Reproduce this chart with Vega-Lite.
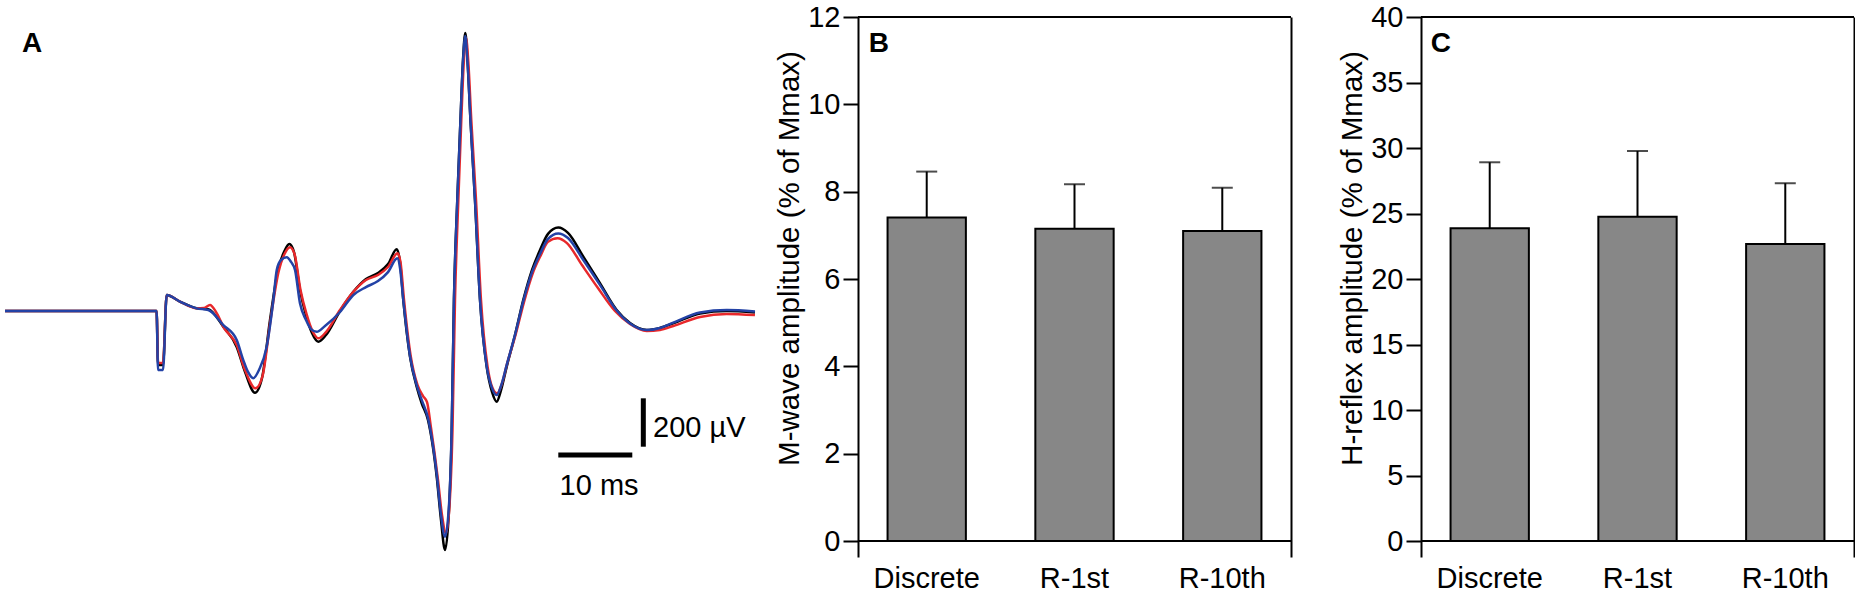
{
  "$schema": "https://vega.github.io/schema/vega-lite/v6.json",
  "padding": {"left": 0, "top": 3, "right": 0, "bottom": 0},
  "config": {
    "font": "Liberation Sans",
    "view": {"stroke": null},
    "axis": {
      "grid": false,
      "domainColor": "black",
      "domainWidth": 2,
      "tickColor": "black",
      "tickWidth": 2,
      "labelColor": "black",
      "titleColor": "black",
      "labelFontSize": 29,
      "titleFontSize": 29.5,
      "titleFontWeight": "normal",
      "labelFont": "Liberation Sans",
      "titleFont": "Liberation Sans"
    }
  },
  "datasets": {
    "traces": [
      {"trace": "Discrete", "t": -20.58, "v": 0}, {"trace": "Discrete", "t": -0.1, "v": 0}, {"trace": "Discrete", "t": 0.1, "v": -223}, {"trace": "Discrete", "t": 0.77, "v": -223},
      {"trace": "Discrete", "t": 1.27, "v": 66}, {"trace": "Discrete", "t": 3.05, "v": 39}, {"trace": "Discrete", "t": 5.32, "v": 11}, {"trace": "Discrete", "t": 6.89, "v": 7},
      {"trace": "Discrete", "t": 8.92, "v": -65}, {"trace": "Discrete", "t": 10.73, "v": -149}, {"trace": "Discrete", "t": 11.85, "v": -252}, {"trace": "Discrete", "t": 13.2, "v": -338},
      {"trace": "Discrete", "t": 14.15, "v": -277}, {"trace": "Discrete", "t": 15.23, "v": -37}, {"trace": "Discrete", "t": 16.31, "v": 170}, {"trace": "Discrete", "t": 17.12, "v": 244},
      {"trace": "Discrete", "t": 17.84, "v": 277}, {"trace": "Discrete", "t": 18.47, "v": 244}, {"trace": "Discrete", "t": 19.28, "v": 87}, {"trace": "Discrete", "t": 20.09, "v": -17},
      {"trace": "Discrete", "t": 20.9, "v": -91}, {"trace": "Discrete", "t": 21.76, "v": -127}, {"trace": "Discrete", "t": 22.8, "v": -99}, {"trace": "Discrete", "t": 24.69, "v": 0},
      {"trace": "Discrete", "t": 26.49, "v": 79}, {"trace": "Discrete", "t": 28.2, "v": 132}, {"trace": "Discrete", "t": 29.82, "v": 157}, {"trace": "Discrete", "t": 31.18, "v": 194},
      {"trace": "Discrete", "t": 32.35, "v": 255}, {"trace": "Discrete", "t": 32.8, "v": 203}, {"trace": "Discrete", "t": 33.24, "v": 46}, {"trace": "Discrete", "t": 34.15, "v": -189},
      {"trace": "Discrete", "t": 35.05, "v": -313}, {"trace": "Discrete", "t": 35.73, "v": -382}, {"trace": "Discrete", "t": 36.58, "v": -451}, {"trace": "Discrete", "t": 37.76, "v": -686},
      {"trace": "Discrete", "t": 38.34, "v": -865}, {"trace": "Discrete", "t": 38.88, "v": -989}, {"trace": "Discrete", "t": 39.42, "v": -823}, {"trace": "Discrete", "t": 39.78, "v": -505},
      {"trace": "Discrete", "t": 40.09, "v": 46}, {"trace": "Discrete", "t": 40.54, "v": 459}, {"trace": "Discrete", "t": 40.97, "v": 790}, {"trace": "Discrete", "t": 41.31, "v": 1038},
      {"trace": "Discrete", "t": 41.62, "v": 1150}, {"trace": "Discrete", "t": 41.92, "v": 1038}, {"trace": "Discrete", "t": 42.32, "v": 790}, {"trace": "Discrete", "t": 42.93, "v": 459},
      {"trace": "Discrete", "t": 43.61, "v": 46}, {"trace": "Discrete", "t": 44.51, "v": -230}, {"trace": "Discrete", "t": 45.23, "v": -335}, {"trace": "Discrete", "t": 45.86, "v": -375},
      {"trace": "Discrete", "t": 46.45, "v": -327}, {"trace": "Discrete", "t": 47.22, "v": -230}, {"trace": "Discrete", "t": 48.34, "v": -99}, {"trace": "Discrete", "t": 49.46, "v": 46},
      {"trace": "Discrete", "t": 50.64, "v": 170}, {"trace": "Discrete", "t": 51.72, "v": 252}, {"trace": "Discrete", "t": 52.8, "v": 319}, {"trace": "Discrete", "t": 54.19, "v": 345},
      {"trace": "Discrete", "t": 55.5, "v": 323}, {"trace": "Discrete", "t": 57.57, "v": 225}, {"trace": "Discrete", "t": 59.82, "v": 115}, {"trace": "Discrete", "t": 62.08, "v": 4},
      {"trace": "Discrete", "t": 63.88, "v": -50}, {"trace": "Discrete", "t": 66.14, "v": -79}, {"trace": "Discrete", "t": 67.93, "v": -70}, {"trace": "Discrete", "t": 69.73, "v": -51},
      {"trace": "Discrete", "t": 73.34, "v": -10}, {"trace": "Discrete", "t": 76.95, "v": 0}, {"trace": "Discrete", "t": 80.77, "v": -6},

      {"trace": "R-1st", "t": -20.58, "v": 0}, {"trace": "R-1st", "t": -0.1, "v": 0}, {"trace": "R-1st", "t": 0.1, "v": -215}, {"trace": "R-1st", "t": 0.77, "v": -215},
      {"trace": "R-1st", "t": 1.27, "v": 66}, {"trace": "R-1st", "t": 3.05, "v": 39}, {"trace": "R-1st", "t": 5.32, "v": 11}, {"trace": "R-1st", "t": 6.31, "v": 12},
      {"trace": "R-1st", "t": 7.12, "v": 25}, {"trace": "R-1st", "t": 7.93, "v": -4}, {"trace": "R-1st", "t": 9.01, "v": -70}, {"trace": "R-1st", "t": 10.73, "v": -141},
      {"trace": "R-1st", "t": 11.85, "v": -244}, {"trace": "R-1st", "t": 13.28, "v": -320}, {"trace": "R-1st", "t": 14.22, "v": -269}, {"trace": "R-1st", "t": 15.3, "v": -37},
      {"trace": "R-1st", "t": 16.38, "v": 161}, {"trace": "R-1st", "t": 17.19, "v": 236}, {"trace": "R-1st", "t": 17.93, "v": 264}, {"trace": "R-1st", "t": 18.54, "v": 236},
      {"trace": "R-1st", "t": 19.35, "v": 87}, {"trace": "R-1st", "t": 20.16, "v": -12}, {"trace": "R-1st", "t": 20.97, "v": -83}, {"trace": "R-1st", "t": 21.76, "v": -113},
      {"trace": "R-1st", "t": 22.8, "v": -87}, {"trace": "R-1st", "t": 24.69, "v": 4}, {"trace": "R-1st", "t": 26.49, "v": 79}, {"trace": "R-1st", "t": 28.2, "v": 128},
      {"trace": "R-1st", "t": 29.82, "v": 149}, {"trace": "R-1st", "t": 31.18, "v": 182}, {"trace": "R-1st", "t": 32.46, "v": 239}, {"trace": "R-1st", "t": 32.86, "v": 203},
      {"trace": "R-1st", "t": 33.34, "v": 46}, {"trace": "R-1st", "t": 34.22, "v": -182}, {"trace": "R-1st", "t": 35.16, "v": -306}, {"trace": "R-1st", "t": 35.91, "v": -352},
      {"trace": "R-1st", "t": 36.45, "v": -377}, {"trace": "R-1st", "t": 36.99, "v": -484}, {"trace": "R-1st", "t": 37.93, "v": -699}, {"trace": "R-1st", "t": 38.47, "v": -844},
      {"trace": "R-1st", "t": 39.01, "v": -920}, {"trace": "R-1st", "t": 39.49, "v": -803}, {"trace": "R-1st", "t": 39.89, "v": -492}, {"trace": "R-1st", "t": 40.23, "v": 46},
      {"trace": "R-1st", "t": 40.68, "v": 459}, {"trace": "R-1st", "t": 41.08, "v": 790}, {"trace": "R-1st", "t": 41.42, "v": 1030}, {"trace": "R-1st", "t": 41.72, "v": 1129},
      {"trace": "R-1st", "t": 42.03, "v": 1030}, {"trace": "R-1st", "t": 42.43, "v": 790}, {"trace": "R-1st", "t": 43.07, "v": 459}, {"trace": "R-1st", "t": 43.74, "v": 46},
      {"trace": "R-1st", "t": 44.62, "v": -228}, {"trace": "R-1st", "t": 45.3, "v": -319}, {"trace": "R-1st", "t": 45.91, "v": -341}, {"trace": "R-1st", "t": 46.51, "v": -306},
      {"trace": "R-1st", "t": 47.26, "v": -219}, {"trace": "R-1st", "t": 48.41, "v": -99}, {"trace": "R-1st", "t": 49.55, "v": 37}, {"trace": "R-1st", "t": 50.7, "v": 153},
      {"trace": "R-1st", "t": 51.78, "v": 228}, {"trace": "R-1st", "t": 52.8, "v": 286}, {"trace": "R-1st", "t": 54.08, "v": 301}, {"trace": "R-1st", "t": 55.36, "v": 281},
      {"trace": "R-1st", "t": 57.39, "v": 190}, {"trace": "R-1st", "t": 59.55, "v": 95}, {"trace": "R-1st", "t": 61.85, "v": 0}, {"trace": "R-1st", "t": 63.88, "v": -54},
      {"trace": "R-1st", "t": 66.14, "v": -83}, {"trace": "R-1st", "t": 67.93, "v": -79}, {"trace": "R-1st", "t": 69.73, "v": -62}, {"trace": "R-1st", "t": 73.34, "v": -25},
      {"trace": "R-1st", "t": 76.95, "v": -12}, {"trace": "R-1st", "t": 80.77, "v": -17},

      {"trace": "R-10th", "t": -20.58, "v": 0}, {"trace": "R-10th", "t": -0.1, "v": 0}, {"trace": "R-10th", "t": 0.1, "v": -244}, {"trace": "R-10th", "t": 0.77, "v": -244},
      {"trace": "R-10th", "t": 1.27, "v": 66}, {"trace": "R-10th", "t": 3.05, "v": 39}, {"trace": "R-10th", "t": 5.32, "v": 11}, {"trace": "R-10th", "t": 6.89, "v": 4},
      {"trace": "R-10th", "t": 8.92, "v": -58}, {"trace": "R-10th", "t": 10.73, "v": -120}, {"trace": "R-10th", "t": 11.62, "v": -203}, {"trace": "R-10th", "t": 12.26, "v": -252},
      {"trace": "R-10th", "t": 12.97, "v": -278}, {"trace": "R-10th", "t": 13.74, "v": -244}, {"trace": "R-10th", "t": 14.78, "v": -148}, {"trace": "R-10th", "t": 15.68, "v": 45},
      {"trace": "R-10th", "t": 16.14, "v": 170}, {"trace": "R-10th", "t": 16.72, "v": 211}, {"trace": "R-10th", "t": 17.49, "v": 222}, {"trace": "R-10th", "t": 18.07, "v": 203},
      {"trace": "R-10th", "t": 18.61, "v": 170}, {"trace": "R-10th", "t": 19.28, "v": 32}, {"trace": "R-10th", "t": 20.09, "v": -37}, {"trace": "R-10th", "t": 20.77, "v": -75},
      {"trace": "R-10th", "t": 21.54, "v": -86}, {"trace": "R-10th", "t": 22.66, "v": -62}, {"trace": "R-10th", "t": 24.69, "v": -4}, {"trace": "R-10th", "t": 26.49, "v": 66},
      {"trace": "R-10th", "t": 28.2, "v": 99}, {"trace": "R-10th", "t": 29.82, "v": 124}, {"trace": "R-10th", "t": 31.18, "v": 161}, {"trace": "R-10th", "t": 32.43, "v": 218},
      {"trace": "R-10th", "t": 32.8, "v": 178}, {"trace": "R-10th", "t": 33.24, "v": 46}, {"trace": "R-10th", "t": 34.15, "v": -186}, {"trace": "R-10th", "t": 35.05, "v": -306},
      {"trace": "R-10th", "t": 35.73, "v": -368}, {"trace": "R-10th", "t": 36.58, "v": -443}, {"trace": "R-10th", "t": 37.76, "v": -674}, {"trace": "R-10th", "t": 38.34, "v": -844},
      {"trace": "R-10th", "t": 38.88, "v": -934}, {"trace": "R-10th", "t": 39.42, "v": -803}, {"trace": "R-10th", "t": 39.78, "v": -492}, {"trace": "R-10th", "t": 40.09, "v": 46},
      {"trace": "R-10th", "t": 40.54, "v": 459}, {"trace": "R-10th", "t": 40.97, "v": 790}, {"trace": "R-10th", "t": 41.31, "v": 1030}, {"trace": "R-10th", "t": 41.62, "v": 1138},
      {"trace": "R-10th", "t": 41.92, "v": 1030}, {"trace": "R-10th", "t": 42.32, "v": 790}, {"trace": "R-10th", "t": 42.93, "v": 459}, {"trace": "R-10th", "t": 43.61, "v": 46},
      {"trace": "R-10th", "t": 44.51, "v": -228}, {"trace": "R-10th", "t": 45.23, "v": -319}, {"trace": "R-10th", "t": 45.86, "v": -348}, {"trace": "R-10th", "t": 46.45, "v": -310},
      {"trace": "R-10th", "t": 47.22, "v": -223}, {"trace": "R-10th", "t": 48.34, "v": -99}, {"trace": "R-10th", "t": 49.46, "v": 41}, {"trace": "R-10th", "t": 50.64, "v": 161},
      {"trace": "R-10th", "t": 51.72, "v": 236}, {"trace": "R-10th", "t": 52.8, "v": 298}, {"trace": "R-10th", "t": 54.19, "v": 321}, {"trace": "R-10th", "t": 55.5, "v": 302},
      {"trace": "R-10th", "t": 57.57, "v": 211}, {"trace": "R-10th", "t": 59.82, "v": 108}, {"trace": "R-10th", "t": 62.08, "v": 2}, {"trace": "R-10th", "t": 63.88, "v": -52},
      {"trace": "R-10th", "t": 66.14, "v": -79}, {"trace": "R-10th", "t": 67.93, "v": -70}, {"trace": "R-10th", "t": 69.73, "v": -48}, {"trace": "R-10th", "t": 73.34, "v": -6},
      {"trace": "R-10th", "t": 76.95, "v": 4}, {"trace": "R-10th", "t": 80.77, "v": -2}
    ],
    "scale": [
      {"bar": "time", "t1": 54.19, "t2": 64.19, "v1": -595.7, "v2": -595.7, "label": "10 ms", "lt": 59.7, "lv": -761},
      {"bar": "amplitude", "t1": 65.68, "t2": 65.68, "v1": -361.2, "v2": -561.4, "label": "200 µV", "lt": 67.0, "lv": -520}
    ],
    "mwave": [
      {"cond": "Discrete", "mean": 7.41, "hi": 8.46},
      {"cond": "R-1st", "mean": 7.15, "hi": 8.17},
      {"cond": "R-10th", "mean": 7.1, "hi": 8.09}
    ],
    "hreflex": [
      {"cond": "Discrete", "mean": 23.87, "hi": 28.91},
      {"cond": "R-1st", "mean": 24.76, "hi": 29.77},
      {"cond": "R-10th", "mean": 22.67, "hi": 27.31}
    ],
    "one": [{}]
  },
  "spacing": 4,
  "hconcat": [
    {
      "width": 770,
      "height": 540,
      "layer": [
        {
          "data": {"name": "traces"},
          "mark": {"type": "line", "strokeWidth": 2.5, "interpolate": "monotone"},
          "encoding": {
            "x": {"field": "t", "type": "quantitative", "scale": {"domain": [-21.26, 82.8], "nice": false, "zero": false}, "axis": null},
            "y": {"field": "v", "type": "quantitative", "scale": {"domain": [-1017.7, 1216.3], "nice": false, "zero": false}, "axis": null},
            "color": {
              "field": "trace",
              "type": "nominal",
              "scale": {"domain": ["Discrete", "R-1st", "R-10th"], "range": ["#000000", "#e8282b", "#2342a6"]},
              "legend": null
            }
          }
        },
        {
          "data": {"name": "scale"},
          "mark": {"type": "rule", "strokeWidth": 5, "color": "black"},
          "encoding": {
            "x": {"field": "t1", "type": "quantitative"},
            "x2": {"field": "t2"},
            "y": {"field": "v1", "type": "quantitative"},
            "y2": {"field": "v2"}
          }
        },
        {
          "data": {"name": "scale"},
          "transform": [{"filter": "datum.bar == 'time'"}],
          "mark": {"type": "text", "fontSize": 29, "align": "center", "baseline": "alphabetic", "color": "black"},
          "encoding": {
            "x": {"field": "lt", "type": "quantitative"},
            "y": {"field": "lv", "type": "quantitative"},
            "text": {"field": "label"}
          }
        },
        {
          "data": {"name": "scale"},
          "transform": [{"filter": "datum.bar == 'amplitude'"}],
          "mark": {"type": "text", "fontSize": 29, "align": "left", "baseline": "alphabetic", "color": "black"},
          "encoding": {
            "x": {"field": "lt", "type": "quantitative"},
            "y": {"field": "lv", "type": "quantitative"},
            "text": {"field": "label"}
          }
        },
        {
          "data": {"name": "one"},
          "mark": {"type": "text", "fontSize": 28, "fontWeight": "bold", "align": "left", "baseline": "alphabetic", "color": "black"},
          "encoding": {
            "x": {"datum": -18.28, "type": "quantitative"},
            "y": {"datum": 1071, "type": "quantitative"},
            "text": {"value": "A"}
          }
        }
      ]
    },
    {
      "spacing": 45,
      "hconcat": [
        {
          "width": 433,
          "height": 540,
          "data": {"name": "mwave"},
          "resolve": {"axis": {"y": "independent"}},
          "layer": [
            {
              "mark": {"type": "bar", "fill": "#878787", "stroke": "black", "strokeWidth": 2},
              "encoding": {
                "x": {
                  "field": "cond", "type": "nominal", "sort": null,
                  "scale": {"paddingInner": 0.47, "paddingOuter": 0.2},
                  "axis": {"title": null, "labelAngle": 0, "domain": false, "ticks": false, "tickSize": 0, "labelPadding": 7}
                },
                "y": {
                  "field": "mean", "type": "quantitative",
                  "scale": {"domain": [-0.366, 12], "nice": false, "zero": false},
                  "axis": {"title": "M-wave amplitude (% of Mmax)", "values": [0, 2, 4, 6, 8, 10, 12], "tickSize": 15, "labelPadding": 3, "titlePadding": 3, "titleY": 241}
                },
                "y2": {"datum": 0}
              }
            },
            {
              "mark": {"type": "rule", "strokeWidth": 2, "color": "black"},
              "encoding": {
                "x": {"field": "cond", "type": "nominal", "sort": null},
                "y": {"field": "mean", "type": "quantitative", "axis": null},
                "y2": {"field": "hi"}
              }
            },
            {
              "mark": {"type": "tick", "size": 21, "thickness": 2, "color": "black"},
              "encoding": {
                "x": {"field": "cond", "type": "nominal", "sort": null},
                "y": {"field": "hi", "type": "quantitative", "axis": null}
              }
            },
            {
              "data": {"name": "one"},
              "mark": {"type": "rule", "strokeWidth": 2, "color": "black"},
              "encoding": {"y": {"datum": 12, "type": "quantitative", "axis": null}}
            },
            {
              "data": {"name": "one"},
              "mark": {"type": "text", "fontSize": 28, "fontWeight": "bold", "align": "left", "baseline": "alphabetic", "color": "black", "dx": -58},
              "encoding": {
                "x": {"datum": "Discrete", "type": "nominal"},
                "y": {"datum": 11.2, "type": "quantitative", "axis": null},
                "text": {"value": "B"}
              }
            },
            {
              "data": {"name": "one"},
              "mark": {"type": "rule", "strokeWidth": 2, "color": "black"},
              "encoding": {
                "y": {"datum": 0, "type": "quantitative",
                  "axis": {"orient": "right", "labels": false, "ticks": false, "title": null, "domain": true}}
              }
            }
          ]
        },
        {
          "width": 433,
          "height": 540,
          "data": {"name": "hreflex"},
          "resolve": {"axis": {"y": "independent"}},
          "layer": [
            {
              "mark": {"type": "bar", "fill": "#878787", "stroke": "black", "strokeWidth": 2},
              "encoding": {
                "x": {
                  "field": "cond", "type": "nominal", "sort": null,
                  "scale": {"paddingInner": 0.47, "paddingOuter": 0.2},
                  "axis": {"title": null, "labelAngle": 0, "domain": false, "ticks": false, "tickSize": 0, "labelPadding": 7}
                },
                "y": {
                  "field": "mean", "type": "quantitative",
                  "scale": {"domain": [-1.221, 40], "nice": false, "zero": false},
                  "axis": {"title": "H-reflex amplitude (% of Mmax)", "values": [0, 5, 10, 15, 20, 25, 30, 35, 40], "tickSize": 15, "labelPadding": 3, "titlePadding": 3, "titleY": 241}
                },
                "y2": {"datum": 0}
              }
            },
            {
              "mark": {"type": "rule", "strokeWidth": 2, "color": "black"},
              "encoding": {
                "x": {"field": "cond", "type": "nominal", "sort": null},
                "y": {"field": "mean", "type": "quantitative", "axis": null},
                "y2": {"field": "hi"}
              }
            },
            {
              "mark": {"type": "tick", "size": 21, "thickness": 2, "color": "black"},
              "encoding": {
                "x": {"field": "cond", "type": "nominal", "sort": null},
                "y": {"field": "hi", "type": "quantitative", "axis": null}
              }
            },
            {
              "data": {"name": "one"},
              "mark": {"type": "rule", "strokeWidth": 2, "color": "black"},
              "encoding": {"y": {"datum": 40, "type": "quantitative", "axis": null}}
            },
            {
              "data": {"name": "one"},
              "mark": {"type": "text", "fontSize": 28, "fontWeight": "bold", "align": "left", "baseline": "alphabetic", "color": "black", "dx": -59},
              "encoding": {
                "x": {"datum": "Discrete", "type": "nominal"},
                "y": {"datum": 37.33, "type": "quantitative", "axis": null},
                "text": {"value": "C"}
              }
            },
            {
              "data": {"name": "one"},
              "mark": {"type": "rule", "strokeWidth": 2, "color": "black"},
              "encoding": {
                "y": {"datum": 0, "type": "quantitative",
                  "axis": {"orient": "right", "labels": false, "ticks": false, "title": null, "domain": true}}
              }
            }
          ]
        }
      ]
    }
  ]
}
